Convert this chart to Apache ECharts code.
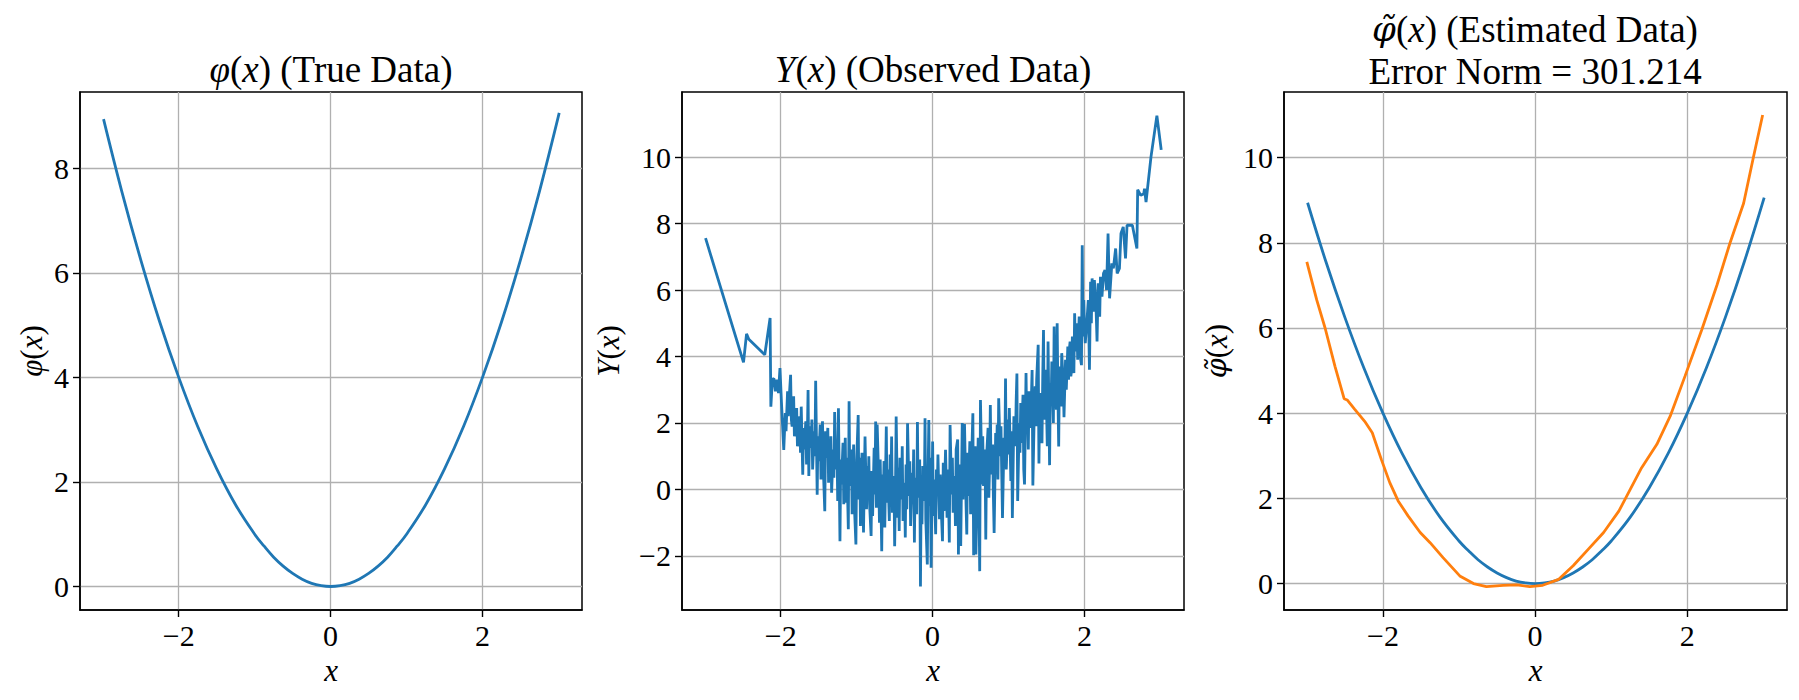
<!DOCTYPE html>
<html>
<head>
<meta charset="utf-8">
<script src="https://cdn.jsdelivr.net/npm/echarts@6/dist/echarts.min.js"></script>
<style>html,body{margin:0;padding:0;background:#fff}#c{width:1799px;height:700px}</style>
</head>
<body>
<div id="c"></div>
<script>
// ---------- data ----------
const xTicks = [-2, 0, 2];
const yTicks1 = [0, 2, 4, 6, 8];
const yTicks2 = [-2, 0, 2, 4, 6, 8, 10];
const yTicks3 = [0, 2, 4, 6, 8, 10];

// true data phi(x)
const trueX = [-2.99, -2.75, -2.5, -2.25, -2.0, -1.75, -1.5, -1.25, -1.0, -0.875, -0.75, -0.625, -0.5, -0.375,
               -0.25, -0.125, 0.0, 0.125, 0.25, 0.375, 0.5, 0.625, 0.75, 0.875, 1.0, 1.25, 1.5, 1.75, 2.0,
               2.25, 2.5, 2.75, 3.01];
const trueY = [8.94, 7.56, 6.25, 5.06, 4.0, 3.06, 2.25, 1.56, 1.0, 0.77, 0.56, 0.39, 0.25, 0.14,
               0.06, 0.016, 0.0, 0.016, 0.06, 0.14, 0.25, 0.39, 0.56, 0.77, 1.0, 1.56, 2.25, 3.06, 4.0,
               5.06, 6.25, 7.56, 9.06];

// estimated data
const estX = [-3.0, -2.87, -2.76, -2.63, -2.51, -2.47, -2.37, -2.24, -2.14, -2.02, -1.91, -1.80, -1.67,
              -1.51, -1.38, -1.21, -0.99, -0.81, -0.64, -0.42, -0.24, -0.07, 0.10, 0.31, 0.50, 0.70,
              0.90, 1.10, 1.25, 1.40, 1.60, 1.775, 1.97, 2.19, 2.39, 2.56, 2.74, 2.87, 2.99];
const estY = [7.55, 6.66, 6.0, 5.10, 4.34, 4.31, 4.09, 3.81, 3.54, 2.91, 2.37, 1.94, 1.59,
              1.20, 0.96, 0.61, 0.18, 0.0, -0.07, -0.04, -0.03, -0.07, -0.04, 0.10, 0.42, 0.81,
              1.20, 1.70, 2.21, 2.72, 3.27, 3.93, 4.87, 5.96, 7.01, 7.99, 8.93, 10.02, 11.0];

// observed data Y(x)
const obsX = [
  -2.99, -2.49, -2.45, -2.42, -2.21, -2.14, -2.13, -2.11, -2.09, -2.07, -2.05, -2.03, -2.01, -1.99, -1.96,
  -1.94, -1.93, -1.91, -1.90, -1.89, -1.87, -1.86, -1.85,
  -1.84, -1.83, -1.82, -1.80, -1.79, -1.78, -1.76, -1.75,
  -1.74, -1.73, -1.71, -1.70, -1.69, -1.67, -1.66, -1.65,
  -1.64, -1.63, -1.62, -1.60, -1.59, -1.58, -1.56, -1.55,
  -1.54, -1.52, -1.51, -1.50, -1.48, -1.47, -1.46, -1.45,
  -1.44, -1.42, -1.41, -1.40, -1.38, -1.37, -1.36, -1.35,
  -1.34, -1.33, -1.31, -1.30, -1.29, -1.27, -1.26, -1.25,
  -1.24, -1.22, -1.21, -1.20, -1.18, -1.17, -1.16, -1.15,
  -1.14, -1.13, -1.11, -1.10, -1.09, -1.07, -1.06, -1.05,
  -1.04, -1.03, -1.01, -1.00, -0.98, -0.97, -0.96, -0.95,
  -0.94, -0.93, -0.91, -0.90, -0.89, -0.87, -0.86, -0.85,
  -0.84, -0.83, -0.81, -0.80, -0.79, -0.77, -0.76, -0.75,
  -0.74, -0.73, -0.71, -0.70, -0.69, -0.67, -0.66, -0.65,
  -0.64, -0.63, -0.61, -0.60, -0.59, -0.57, -0.56, -0.55,
  -0.54, -0.53, -0.51, -0.50, -0.49, -0.48, -0.46, -0.45,
  -0.44, -0.43, -0.41, -0.40, -0.39, -0.37, -0.36, -0.35,
  -0.34, -0.33, -0.31, -0.30, -0.29, -0.27, -0.26, -0.25,
  -0.24, -0.23, -0.21, -0.20, -0.19, -0.17, -0.16, -0.15,
  -0.14, -0.13, -0.11, -0.10, -0.09, -0.07, -0.06, -0.05,
  -0.04, -0.03, -0.02, 0.00, 0.01, 0.02, 0.04, 0.05,
  0.06, 0.07, 0.09, 0.10, 0.11, 0.13, 0.14, 0.15,
  0.16, 0.17, 0.19, 0.20, 0.21, 0.22, 0.23, 0.25,
  0.26, 0.27, 0.29, 0.30, 0.31, 0.33, 0.34, 0.35,
  0.36, 0.37, 0.39, 0.40, 0.41, 0.42, 0.44, 0.45,
  0.46, 0.47, 0.49, 0.50, 0.51, 0.53, 0.54, 0.55,
  0.56, 0.57, 0.59, 0.60, 0.61, 0.62, 0.63, 0.65,
  0.66, 0.67, 0.69, 0.70, 0.71, 0.73, 0.74, 0.75,
  0.76, 0.77, 0.79, 0.80, 0.81, 0.83, 0.84, 0.85,
  0.86, 0.87, 0.89, 0.90, 0.91, 0.92, 0.94, 0.95,
  0.96, 0.97, 0.99, 1.00, 1.01, 1.03, 1.04, 1.05,
  1.06, 1.07, 1.09, 1.10, 1.11, 1.12, 1.14, 1.15,
  1.16, 1.17, 1.19, 1.20, 1.21, 1.23, 1.24, 1.25,
  1.26, 1.27, 1.29, 1.30, 1.31, 1.32, 1.34, 1.35,
  1.36, 1.37, 1.39, 1.40, 1.41, 1.43, 1.44, 1.45,
  1.46, 1.47, 1.49, 1.50, 1.51, 1.52, 1.54, 1.55,
  1.56, 1.57, 1.59, 1.60, 1.61, 1.63, 1.64, 1.65,
  1.66, 1.67, 1.69, 1.70, 1.72, 1.73, 1.75, 1.76, 1.78,
  1.79, 1.80, 1.81, 1.82, 1.83, 1.84, 1.85, 1.86, 1.87, 1.88,
  1.89, 1.90, 1.91, 1.93, 1.94, 1.95, 1.96, 1.97, 1.98, 1.99,
  2.00, 2.01, 2.03, 2.05, 2.065, 2.08, 2.09, 2.10, 2.12, 2.13,
  2.15, 2.165, 2.18, 2.20, 2.21, 2.23, 2.25, 2.27, 2.29, 2.31,
  2.33, 2.36, 2.38, 2.41, 2.43, 2.46, 2.48, 2.51, 2.54, 2.56,
  2.63, 2.69, 2.70, 2.74, 2.78, 2.79, 2.81, 2.875, 2.953, 3.01
];
const obsY = [
  7.56, 3.82, 4.68, 4.52, 4.05, 5.16, 2.49, 3.30, 3.34, 2.95, 3.30, 2.90, 3.65, 2.60, 1.19,
  2.30, 1.75, 2.95, 2.20, 2.70, 3.45, 2.10, 1.89,
  2.55, 2.80, 1.60, 1.93, 2.45, 1.30, 1.45, 2.20,
  1.10, 2.49, 0.44, 1.85, 1.20, 2.05, 0.75, 1.50,
  2.99, 0.40, 1.90, 1.25, 2.10, 0.60, 1.75, 1.00,
  3.27, -0.16, 1.60, 0.85, 1.95, 0.30, 1.40, 2.05,
  0.70, -0.66, 1.75, 0.95, 1.85, 0.20, 1.30, 0.55,
  1.60, -0.10, 1.20, 0.35, 2.33, 0.60, 1.45, -0.35,
  2.44, -1.56, 0.90, 0.15, 1.40, -0.45, 0.80, 1.55,
  -0.40, 0.95, -1.20, 2.65, 0.10, 1.20, -0.75, 0.60,
  1.35, -0.50, -1.66, 0.85, 2.24, -0.30, 0.95, -1.10,
  0.40, 1.10, -1.30, 0.25, 1.59, -0.60, 0.70, -0.20,
  1.00, -0.45, -1.40, 0.55, -0.80, 1.25, -0.15, 2.04,
  -0.55, 1.95, 0.30, -1.00, 0.90, -1.86, 0.45, -0.35,
  0.85, -1.15, 1.89, -0.40, 0.60, -0.95, 1.05, -0.10,
  1.59, -0.70, 0.40, -1.71, -0.20, 2.19, -0.85, 0.65,
  -1.25, 0.95, -0.30, 1.30, -0.95, 0.20, -1.45, 0.75,
  -0.60, 1.99, -0.20, 0.85, -1.10, 0.50, -0.45, 1.20,
  -1.60, 0.35, -0.75, 2.03, -0.25, 0.90, -2.92, 0.15,
  -1.05, 0.70, -0.35, 2.14, -0.90, -2.26, 0.40, 2.09,
  -0.50, 0.95, -2.36, 1.44, -0.80, 0.30, -1.35, 0.60,
  -0.20, 1.05, -0.90, 0.45, -0.40, -1.56, 0.80, -0.65,
  0.25, 1.19, -0.85, 0.60, -0.30, -1.60, 1.94, -0.15,
  0.95, -0.70, 0.40, -1.10, 1.20, 1.50, -1.96, 0.20,
  0.75, -1.70, 2.00, -0.30, 0.85, 1.97, -0.45, -1.36,
  1.10, -0.20, 1.45, -0.75, 0.60, 2.29, -1.98, 0.85,
  1.30, -1.96, 0.40, 1.55, -0.30, -2.46, 2.69, 0.15,
  1.60, 0.10, 1.20, -1.51, 0.95, 1.85, -0.25, 0.70,
  2.54, 0.45, 1.35, -0.20, -1.31, 1.70, 0.60, 1.95,
  0.30, 2.74, 1.00, 1.90, 0.50, -0.86, 1.55, 0.75,
  3.34, 0.60, 2.10, 1.05, 2.45, 0.25, 1.75, -0.86,
  0.70, 2.20, 1.30, 2.65, 3.49, -0.35, 2.00, 1.10,
  2.60, 1.40, 2.85, 0.60, 0.15, 3.50, 1.80, 2.40,
  1.20, 2.95, 1.85, 2.70, 3.59, 0.12, 2.50, 3.10,
  1.90, 3.30, 4.35, 0.78, 2.90, 2.20, 1.39, 3.40,
  4.80, 2.10, 3.60, 2.40, 1.30, 4.45, 0.73, 3.20,
  2.60, 3.85, 2.00, 4.90, 3.10, 2.40, 5.00, 2.85,
  1.29, 3.70, 2.50, 4.10, 3.20, 2.17, 3.90, 3.00, 4.30,
  3.30, 4.20, 4.45, 3.40, 3.60, 4.60, 4.00, 3.50, 5.30, 4.15,
  4.70, 5.00, 3.90, 5.20, 4.30, 3.90, 3.74, 7.35, 4.60, 5.70,
  4.90, 4.40, 5.00, 5.70, 3.60, 6.25, 5.00, 6.35, 5.35, 6.30,
  5.60, 4.45, 6.20, 5.20, 6.40, 5.80, 6.50, 6.60, 6.00, 7.70,
  5.75, 6.80, 6.65, 7.25, 6.50, 6.65, 7.70, 7.90, 6.95, 7.95,
  7.95, 7.25, 9.02, 8.85, 8.90, 9.05, 8.65, 10.00, 11.25, 10.22
];

// axis extents
const xMin = -3.3, xMax = 3.31;
const y1Min = -0.45, y1Max = 9.46;
const y2Min = -3.63, y2Max = 11.96;
const y3Min = -0.62, y3Max = 11.54;

// ---------- chart ----------
const FONT = 'Liberation Serif';
const BLUE = '#1f77b4', ORANGE = '#ff7f0e', GRIDC = '#b0b0b0';
const pairs = (xs, ys) => xs.slice(0, Math.min(xs.length, ys.length)).map((x, i) => [x, ys[i]]);
const fmt = v => String(v).replace('-', '\u2212');

function rich(size, lh) {
  const base = {fontSize: size, color: '#000', fontWeight: 'normal'};
  if (lh) base.lineHeight = lh;
  return {
    i: Object.assign({fontFamily: FONT, fontStyle: 'italic'}, base),
    t: Object.assign({fontFamily: 'DejaVu Serif', fontStyle: 'italic'}, base, {fontSize: size * 0.92}),
    r: Object.assign({fontFamily: FONT}, base)
  };
}
const axLine = {show: true, onZero: false, lineStyle: {color: '#000', width: 1.5}};
const labelBase = {formatter: fmt, fontFamily: FONT, fontSize: 30, color: '#000'};

function makeX(gi) {
  return {
    type: 'value', gridIndex: gi, min: xMin, max: xMax,
    axisLine: axLine,
    axisTick: {show: true, length: 7, customValues: xTicks, lineStyle: {color: '#000', width: 1.4}},
    axisLabel: Object.assign({customValues: xTicks, margin: 10}, labelBase),
    splitLine: {show: true, lineStyle: {color: GRIDC, width: 1.3}},
    name: '{i|x}', nameLocation: 'middle', nameGap: 44,
    nameTextStyle: {rich: rich(31)}
  };
}
function makeY(gi, mn, mx, ticks, name, gap) {
  return {
    type: 'value', gridIndex: gi, min: mn, max: mx,
    axisLine: axLine,
    axisTick: {show: true, length: 7, customValues: ticks, lineStyle: {color: '#000', width: 1.4}},
    axisLabel: Object.assign({customValues: ticks, margin: 11}, labelBase),
    splitLine: {show: true, lineStyle: {color: GRIDC, width: 1.3}},
    name: name, nameLocation: 'middle', nameGap: gap, nameRotate: 90,
    nameTextStyle: {rich: rich(31)}
  };
}
const gridBase = {top: 92, height: 518, show: true, borderColor: '#000', borderWidth: 1.5};

const lineBase = {type: 'line', showSymbol: false, symbol: 'none', animation: false, silent: true};
const LW = 2.8;

const option = {
  backgroundColor: '#fff',
  animation: false,
  title: [
    {text: '{i|\u03c6}{r|(}{i|x}{r|) (True Data)}', left: 331, top: 49, textAlign: 'center', padding: 0,
     textStyle: {rich: rich(37, 40)}},
    {text: '{i|Y}{r|(}{i|x}{r|) (Observed Data)}', left: 933, top: 49, textAlign: 'center', padding: 0,
     textStyle: {rich: rich(37, 40)}},
    {text: '{t|\u03c6\u0303}{r|(}{i|x}{r|) (Estimated Data)}\n{r|Error Norm = 301.214}', left: 1535, top: 8,
     textAlign: 'center', padding: 0, textStyle: {rich: rich(37, 42)}}
  ],
  grid: [
    Object.assign({left: 80, width: 502}, gridBase),
    Object.assign({left: 682, width: 502}, gridBase),
    Object.assign({left: 1284, width: 503}, gridBase)
  ],
  xAxis: [makeX(0), makeX(1), makeX(2)],
  yAxis: [
    makeY(0, y1Min, y1Max, yTicks1, '{i|\u03c6}{r|(}{i|x}{r|)}', 33),
    makeY(1, y2Min, y2Max, yTicks2, '{i|Y}{r|(}{i|x}{r|)}', 58),
    makeY(2, y3Min, y3Max, yTicks3, '{t|\u03c6\u0303}{r|(}{i|x}{r|)}', 52)
  ],
  series: [
    Object.assign({}, lineBase, {xAxisIndex: 0, yAxisIndex: 0, data: pairs(trueX, trueY), smooth: 0.4,
      lineStyle: {color: BLUE, width: LW}, itemStyle: {color: BLUE}}),
    Object.assign({}, lineBase, {xAxisIndex: 1, yAxisIndex: 1, data: pairs(obsX, obsY),
      lineStyle: {color: BLUE, width: LW}, itemStyle: {color: BLUE}}),
    Object.assign({}, lineBase, {xAxisIndex: 2, yAxisIndex: 2, data: pairs(trueX, trueY), smooth: 0.4,
      lineStyle: {color: BLUE, width: LW}, itemStyle: {color: BLUE}}),
    Object.assign({}, lineBase, {xAxisIndex: 2, yAxisIndex: 2, data: pairs(estX, estY),
      lineStyle: {color: ORANGE, width: LW}, itemStyle: {color: ORANGE}})
  ]
};
const chart = echarts.init(document.getElementById('c'), null, {renderer: 'svg'});
chart.setOption(option);
</script>
</body>
</html>
